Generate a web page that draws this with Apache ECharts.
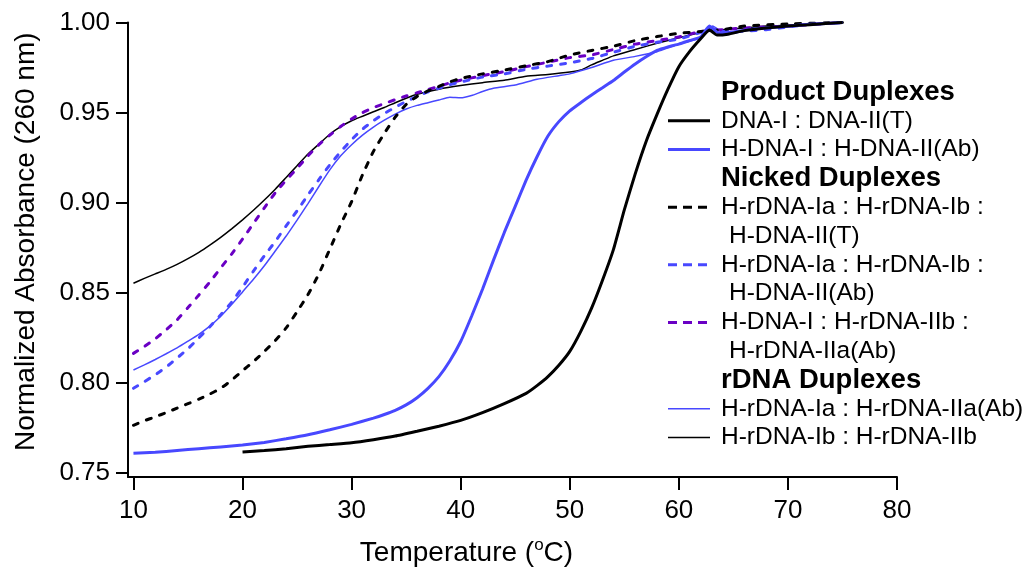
<!DOCTYPE html>
<html>
<head>
<meta charset="utf-8">
<script src="https://cdn.jsdelivr.net/npm/echarts@6/dist/echarts.min.js"></script>
<style>
  html, body { margin: 0; padding: 0; background: #fff; }
  #chart { width: 1033px; height: 575px; }
</style>
</head>
<body>
<div id="chart"></div>
<script>
// melting curves as [temperature (°C), normalized absorbance]
const dnaI_dnaIIT = [
  [20, .7617], [22, .7625], [24, .7635], [26, .7648], [28, .7658], [30, .7668], [32, .7685],
  [34, .7705], [36, .7732], [38, .776], [40, .7792], [42, .7835], [44, .7885], [46, .7942],
  [47, .7985], [48, .8035], [49, .8098], [50, .8175], [51, .8285], [52, .8415], [53, .857],
  [54, .874], [55, .896], [56, .916], [57, .934], [58, .949], [59, .963], [60, .9755],
  [61, .984], [62, .991], [62.8, .9958], [63.5, .993], [64.5, .9935], [66, .9955], [68, .997],
  [70, .998], [72, .9988], [75, 1.0],
]
const hDnaI_hDnaIIAb = [
  [10, .761], [12, .7615], [14, .7625], [16, .7635], [18, .7645], [20, .7655], [22, .767],
  [24, .769], [26, .7712], [28, .774], [30, .777], [32, .7805], [33, .7825], [34, .7848],
  [35, .7878], [36, .7918], [37, .797], [38, .8035], [39, .8122], [40, .823], [41, .837],
  [42, .852], [43, .868], [44, .8835], [45, .898], [46, .9125], [47, .9255], [48, .937],
  [49, .945], [50, .951], [51, .9555], [52, .9598], [53, .9638], [54, .9678], [55, .9725],
  [56, .977], [57, .981], [58, .9845], [59, .9865], [60, .988], [61, .99], [62, .992],
  [62.8, .998], [63.7, .994], [65, .9948], [67, .9965], [69.5, .9977], [72, .999], [75, 1.0],
]
const nickedIaIbIIT = [
  [10, .7765], [11, .779], [12, .7812], [13, .7835], [14, .786], [15, .7885], [16, .791],
  [17, .7938], [18, .797], [19, .8015], [20, .8068], [21, .8118], [22, .8175], [23, .8235],
  [24, .8305], [25, .8395], [26, .849], [27, .8605], [28, .8742], [29, .888], [30, .9006],
  [31, .9155], [32, .9285], [33, .9385], [34, .9475], [35, .9545], [36, .959], [37, .962],
  [38, .9645], [39, .967], [40, .969], [42, .9715], [44, .9736], [46, .976], [48, .9783],
  [50, .982], [52, .9845], [54, .9868], [56, .99], [58, .9922], [60, .994], [62, .995],
  [64, .996], [66, .998], [70, .9992], [75, 1.0],
]
const nickedIaIbIIAb = [
  [10, .797], [11, .8007], [12, .8045], [13, .8088], [14, .8138], [15, .819], [16, .825],
  [17, .8312], [18, .8378], [19, .8448], [20, .8532], [21, .862], [22, .8705], [23, .8785],
  [24, .8872], [25, .8955], [26, .9043], [27, .9128], [28, .921], [29, .9283], [30, .935],
  [31, .9408], [32, .9455], [33, .9495], [34, .953], [35, .9562], [36, .959], [37, .9615],
  [38, .9635], [39, .9655], [40, .967], [42, .9697], [44, .9715], [46, .974], [48, .9758],
  [50, .9776], [52, .98], [54, .9835], [56, .9868], [58, .989], [60, .9908], [62, .9945],
  [62.8, .997], [64, .995], [66, .9952], [68, .996], [70, .9975], [72, .999], [75, 1.0],
]
const nickedIIbIIaAb = [
  [10, .8164], [11, .8202], [12, .8245], [13, .8295], [14, .835], [15, .8418], [16, .8488],
  [17, .856], [18, .8638], [19, .8715], [20, .8798], [21, .8885], [22, .8972], [23, .9055],
  [24, .9125], [25, .919], [26, .926], [27, .9322], [28, .9375], [29, .9423], [30, .9465],
  [31, .95], [32, .9528], [33, .955], [34, .9572], [35, .9592], [36, .961], [37, .9628],
  [38, .9645], [39, .9665], [40, .968], [42, .9705], [44, .9727], [46, .9755], [48, .978],
  [50, .9805], [52, .982], [54, .985], [56, .988], [58, .99], [60, .992], [62, .995],
  [64, .996], [66, .997], [70, .998], [75, 1.0],
]
const rDnaIaIIaAb = [
  [10, .8072], [11, .81], [12, .813], [13, .8162], [14, .8195], [15, .8232], [16, .827],
  [17, .8315], [18, .837], [19, .8435], [20, .8505], [21, .8575], [22, .865], [23, .8732],
  [24, .8815], [25, .8903], [26, .8995], [27, .909], [28, .9182], [29, .926], [30, .9322],
  [31, .9375], [32, .942], [33, .9458], [34, .9492], [35, .952], [36, .954], [37, .9555],
  [38, .957], [39, .9585], [40, .9582], [41, .9595], [42, .9617], [43, .9635], [45, .9653],
  [47, .9685], [49, .9705], [50, .9715], [52, .975], [54, .979], [56, .9812], [58, .9838],
  [60, .988], [62, .9915], [63.1, .998], [64, .9945], [65, .994], [66, .9955], [68, .9968],
  [70, .998], [72, .999], [75, 1.0],
]
const rDnaIbIIb = [
  [10, .8553], [11, .858], [12, .8605], [13, .863], [14, .8658], [15, .869], [16, .8725],
  [17, .8765], [18, .8808], [19, .8855], [20, .8905], [21, .8958], [22, .9015], [23, .9075],
  [24, .914], [25, .9205], [26, .927], [27, .9325], [28, .938], [29, .9422], [30, .9455],
  [31, .948], [32, .9505], [33, .9528], [34, .9555], [35, .958], [36, .9602], [38, .963],
  [40, .965], [42, .9666], [44, .968], [46, .9702], [48, .9712], [50, .9725], [51, .9736],
  [52, .9765], [53, .979], [54, .9815], [56, .985], [58, .9885], [60, .9915], [62, .9945],
  [64, .996], [66, .997], [68, .998], [70, .9985], [72, .9992], [75, 1.0],
]

const xTicks = [10, 20, 30, 40, 50, 60, 70, 80]
const yTicks = [0.75, 0.80, 0.85, 0.90, 0.95, 1.00]

const FONT = '"Liberation Sans", Arial, sans-serif'
const BLUE = '#4848ff'
const PURPLE = '#6a00c4'

// drawing order: thin first, thick product curves last
const curves = [
  { key: 'G', name: 'H-rDNA-Ib : H-rDNA-IIb', data: rDnaIbIIb, color: '#000', width: 1.5 },
  { key: 'F', name: 'H-rDNA-Ia : H-rDNA-IIa(Ab)', data: rDnaIaIIaAb, color: BLUE, width: 1.5 },
  { key: 'E', name: 'H-DNA-I : H-rDNA-IIb : H-rDNA-IIa(Ab)', data: nickedIIbIIaAb, color: PURPLE, width: 3, dash: true },
  { key: 'D', name: 'H-rDNA-Ia : H-rDNA-Ib : H-DNA-II(Ab)', data: nickedIaIbIIAb, color: BLUE, width: 3, dash: true },
  { key: 'C', name: 'H-rDNA-Ia : H-rDNA-Ib : H-DNA-II(T)', data: nickedIaIbIIT, color: '#000', width: 3, dash: true },
  { key: 'B', name: 'H-DNA-I : H-DNA-II(Ab)', data: hDnaI_hDnaIIAb, color: BLUE, width: 3 },
  { key: 'A', name: 'DNA-I : DNA-II(T)', data: dnaI_dnaIIT, color: '#000', width: 3 },
]
const byKey = Object.fromEntries(curves.map((c) => [c.key, c]))

// legend rows, top to bottom
const legendRows = [
  { header: 'Product Duplexes' },
  { key: 'A', text: 'DNA-I : DNA-II(T)' },
  { key: 'B', text: 'H-DNA-I : H-DNA-II(Ab)' },
  { header: 'Nicked Duplexes' },
  { key: 'C', text: 'H-rDNA-Ia : H-rDNA-Ib :' },
  { cont: 'H-DNA-II(T)' },
  { key: 'D', text: 'H-rDNA-Ia : H-rDNA-Ib :' },
  { cont: 'H-DNA-II(Ab)' },
  { key: 'E', text: 'H-DNA-I : H-rDNA-IIb :' },
  { cont: 'H-rDNA-IIa(Ab)' },
  { header: 'rDNA Duplexes' },
  { key: 'F', text: 'H-rDNA-Ia : H-rDNA-IIa(Ab)' },
  { key: 'G', text: 'H-rDNA-Ib : H-rDNA-IIb' },
]

function buildLegend() {
  const top = 92
  const step = 28.8
  const out = []
  legendRows.forEach((row, i) => {
    const y = top + i * step
    if (row.header) {
      out.push({
        type: 'text', x: 721, y,
        style: { text: row.header, font: 'bold 27.5px ' + FONT, fill: '#000', verticalAlign: 'middle' },
      })
    } else if (row.cont) {
      out.push({
        type: 'text', x: 729, y,
        style: { text: row.cont, font: '24.5px ' + FONT, fill: '#000', verticalAlign: 'middle' },
      })
    } else {
      const c = byKey[row.key]
      out.push({
        type: 'line',
        shape: { x1: 668, y1: y, x2: 710, y2: y },
        style: { stroke: c.color, lineWidth: c.width, lineDash: c.dash ? [9, 6] : null },
      })
      out.push({
        type: 'text', x: 721, y,
        style: { text: row.text, font: '24.5px ' + FONT, fill: '#000', verticalAlign: 'middle' },
      })
    }
  })
  return out
}

const chart = echarts.init(document.getElementById('chart'), null, { renderer: 'canvas' })

const axisCommon = {
  axisLine: { show: true, lineStyle: { color: '#000', width: 2 } },
  axisTick: { show: true, inside: false, length: 12, lineStyle: { color: '#000', width: 2 } },
  splitLine: { show: false },
}

chart.setOption({
  animation: false,
  backgroundColor: '#fff',
  textStyle: { fontFamily: FONT },
  grid: { left: 128, right: 136, top: 22.5, bottom: 98, containLabel: false },
  xAxis: {
    type: 'value',
    min: 9.5,
    max: 80,
    ...axisCommon,
    axisTick: { ...axisCommon.axisTick, length: 13, customValues: xTicks },
    axisLabel: {
      customValues: xTicks,
      margin: 21,
      fontSize: 26,
      color: '#000',
      fontFamily: FONT,
    },
    name: 'Temperature ({sup|o}C)',
    nameLocation: 'middle',
    nameGap: 60,
    nameTextStyle: {
      fontSize: 28,
      color: '#000',
      fontFamily: FONT,
      lineHeight: 32,
      padding: [0, 92, 0, 0],
      rich: {
        sup: { fontSize: 17, lineHeight: 17, verticalAlign: 'top', fontFamily: FONT, color: '#000' },
      },
    },
  },
  yAxis: {
    type: 'value',
    min: 0.7478,
    max: 1.0,
    ...axisCommon,
    axisTick: { ...axisCommon.axisTick, customValues: yTicks },
    axisLabel: {
      customValues: yTicks,
      margin: 18,
      fontSize: 26,
      color: '#000',
      fontFamily: FONT,
      formatter: (v) => v.toFixed(2),
    },
    name: 'Normalized Absorbance (260 nm)',
    nameLocation: 'middle',
    nameGap: 88,
    nameTextStyle: {
      fontSize: 28,
      color: '#000',
      fontFamily: FONT,
      padding: [0, 0, 0, 16],
    },
  },
  series: curves.map((c) => ({
    name: c.name,
    type: 'line',
    data: c.data,
    symbol: 'none',
    smooth: 0.15,
    lineStyle: {
      color: c.color,
      width: c.width,
      type: c.dash ? [5, 9] : 'solid',
      cap: c.dash ? 'round' : 'butt',
    },
  })),
  graphic: buildLegend(),
})
</script>
</body>
</html>
